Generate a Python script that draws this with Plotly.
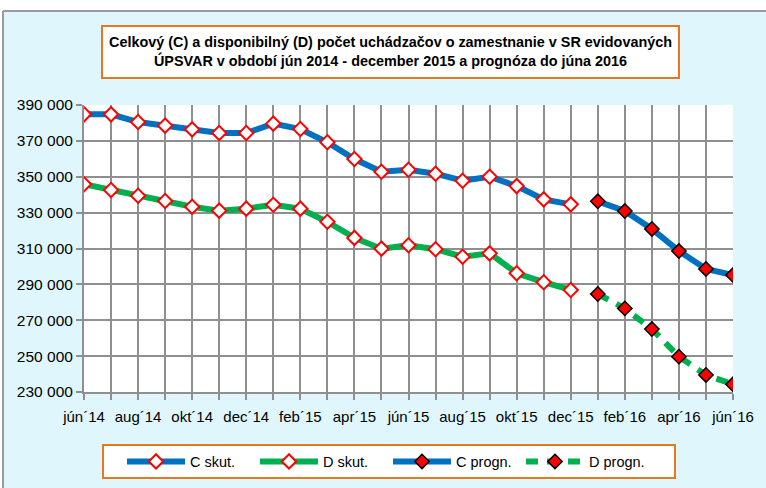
import plotly.graph_objects as go

# ---------------- data ----------------
months = ["jún´14", "júl´14", "aug´14", "sep´14", "okt´14", "nov´14", "dec´14",
          "jan´15", "feb´15", "mar´15", "apr´15", "máj´15", "jún´15", "júl´15",
          "aug´15", "sep´15", "okt´15", "nov´15", "dec´15",
          "jan´16", "feb´16", "mar´16", "apr´16", "máj´16", "jún´16"]
actual_months = months[:19]
forecast_months = months[19:]

c_skut = [384800, 384800, 380500, 378500, 376400, 374400, 374400, 379600, 376600,
          369200, 359900, 352800, 353900, 351700, 347800, 350000, 344800, 337400, 334600]
d_skut = [345800, 342600, 339400, 336500, 333300, 331100, 332200, 334400, 332200,
          324900, 315900, 309900, 311800, 309600, 305400, 307300, 296200, 291200, 286900]
c_progn = [336300, 330900, 320900, 308600, 298600, 295200]
d_progn = [284600, 276600, 265100, 249700, 239500, 234300]

y_ticks = [230000, 250000, 270000, 290000, 310000, 330000, 350000, 370000, 390000]
y_ticktext = ["230 000", "250 000", "270 000", "290 000", "310 000",
              "330 000", "350 000", "370 000", "390 000"]
x_ticktext = [m if i % 2 == 0 else "" for i, m in enumerate(months)]

title_text = ("Celkový (C) a disponibilný (D) počet uchádzačov o zamestnanie v SR evidovaných<br>"
              "ÚPSVAR v období jún 2014 - december 2015 a prognóza do júna 2016")

# ---------------- layout helpers (pixel -> paper) ----------------
WIDTH, HEIGHT = 766, 488
L, R, T, B = 84, 733, 105, 392
PW, PH = R - L, B - T


def px(x):
    return (x - L) / PW


def py(y):
    return (B - y) / PH


FONT = "Liberation Sans, Arial, sans-serif"
BLUE = "#0070C0"
GREEN = "#00B050"
ORANGE = "#E87722"
GRID = "#8F8F8F"
BG = "#DFF7FC"

fig = go.Figure()

fig.add_trace(go.Scatter(
    x=actual_months, y=c_skut, name="C skut.", mode="lines+markers",
    line=dict(color=BLUE, width=6),
    marker=dict(symbol="diamond", size=11, color="white", line=dict(color="red", width=2))))
fig.add_trace(go.Scatter(
    x=actual_months, y=d_skut, name="D skut.", mode="lines+markers",
    line=dict(color=GREEN, width=6),
    marker=dict(symbol="diamond", size=11, color="white", line=dict(color="red", width=2))))
fig.add_trace(go.Scatter(
    x=forecast_months, y=c_progn, name="C progn.", mode="lines+markers",
    line=dict(color=BLUE, width=6),
    marker=dict(symbol="diamond", size=11, color="red", line=dict(color="black", width=1.5))))
fig.add_trace(go.Scatter(
    x=forecast_months, y=d_progn, name="D progn.", mode="lines+markers",
    line=dict(color=GREEN, width=6, dash="12px,9px"),
    marker=dict(symbol="diamond", size=11, color="red", line=dict(color="black", width=1.5))))

shapes = [
    # white strip above the chart frame
    dict(type="rect", xref="paper", yref="paper", x0=px(0), x1=px(WIDTH), y0=py(11), y1=py(0),
         fillcolor="white", line=dict(width=0), layer="below"),
    dict(type="rect", xref="paper", yref="paper", x0=px(0), x1=px(3), y0=py(HEIGHT), y1=py(0),
         fillcolor="white", line=dict(width=0), layer="below"),
    # frame lines
    dict(type="line", xref="paper", yref="paper", x0=px(3), x1=px(WIDTH), y0=py(11), y1=py(11),
         line=dict(color="#9A9A9A", width=2)),
    dict(type="line", xref="paper", yref="paper", x0=px(3), x1=px(3), y0=py(11), y1=py(HEIGHT),
         line=dict(color="#9A9A9A", width=2)),
    # title box
    dict(type="rect", xref="paper", yref="paper", x0=px(102), x1=px(679), y0=py(78), y1=py(26),
         fillcolor="white", line=dict(color=ORANGE, width=2)),
    # legend box
    dict(type="rect", xref="paper", yref="paper", x0=px(103), x1=px(675), y0=py(478), y1=py(445),
         fillcolor="white", line=dict(color=ORANGE, width=2), layer="below"),
]

fig.update_layout(
    width=WIDTH, height=HEIGHT,
    margin=dict(l=L, r=WIDTH - R, t=T, b=HEIGHT - B, pad=0, autoexpand=False),
    paper_bgcolor=BG, plot_bgcolor="white",
    font=dict(family=FONT, size=14, color="black"),
    shapes=shapes,
    annotations=[dict(
        text="<b>" + title_text + "</b>", xref="paper", yref="paper",
        x=px(390.5), y=py(52), xanchor="center", yanchor="middle", showarrow=False,
        font=dict(family=FONT, size=14.4, color="black"), align="center")],
    showlegend=True,
    legend=dict(orientation="h", x=px(122), y=py(461.5), xanchor="left", yanchor="middle",
                bgcolor="rgba(0,0,0,0)", borderwidth=0,
                font=dict(family=FONT, size=14.5), itemwidth=58,
                entrywidth=60, traceorder="normal"),
    xaxis=dict(
        type="category", categoryorder="array", categoryarray=months,
        range=[0, len(months) - 1],
        tickmode="array", tickvals=months, ticktext=x_ticktext,
        showgrid=True, gridcolor=GRID, gridwidth=2,
        ticks="outside", ticklen=6, tickcolor=GRID, tickwidth=2,
        showline=True, linecolor=GRID, linewidth=2, ticklabelstandoff=4,
        tickfont=dict(family=FONT, size=15), zeroline=False),
    yaxis=dict(
        range=[230000, 390000],
        tickmode="array", tickvals=y_ticks, ticktext=y_ticktext,
        showgrid=True, gridcolor=GRID, gridwidth=2,
        ticks="outside", ticklen=6, tickcolor=GRID, tickwidth=2,
        showline=True, linecolor=GRID, linewidth=2,
        tickfont=dict(family=FONT, size=15.5), zeroline=False),
)

fig.write_html("out.html", config={"displayModeBar": False},
               post_script="document.body.style.margin='0';")
